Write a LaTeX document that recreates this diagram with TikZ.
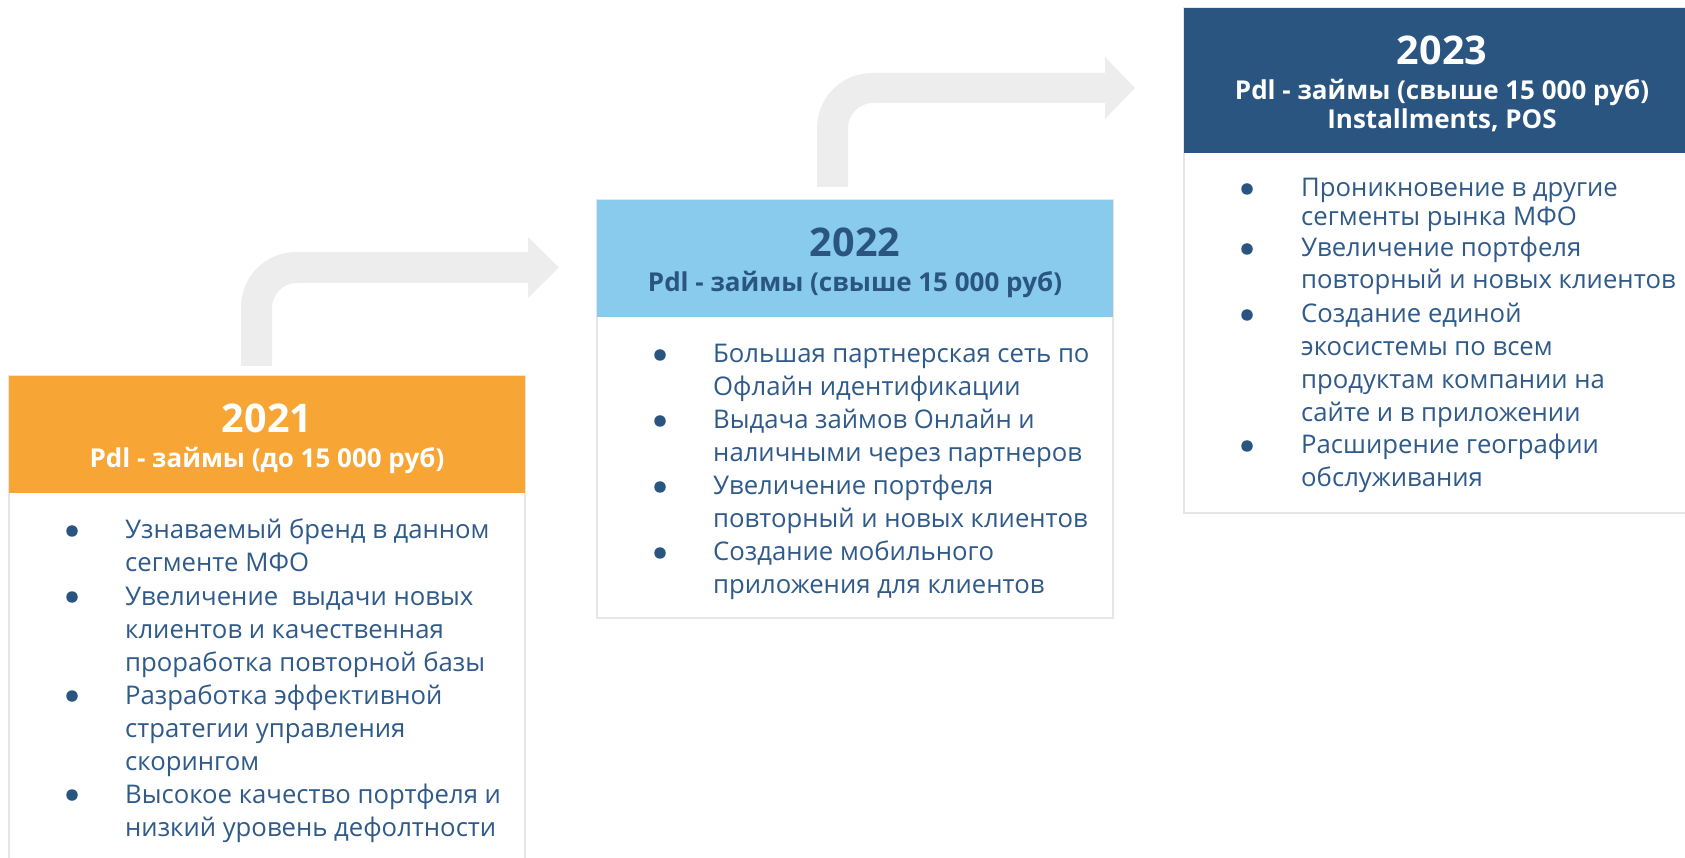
\documentclass[tikz,border=0pt]{standalone}
\usepackage{fontspec}
\setmainfont{Open Sans}
\definecolor{orng}{HTML}{F7A535}
\definecolor{sky}{HTML}{88CBEC}
\definecolor{navy}{HTML}{2A5580}
\definecolor{txtblue}{HTML}{2F5A8A}
\definecolor{edge}{HTML}{E6E6E6}
\definecolor{arr}{HTML}{EDEDED}
\newcommand\itm[1]{\parbox[t]{470pt}{\raggedright #1}}
\begin{document}
\begin{tikzpicture}[x=1pt, y=1pt,
  year/.style={anchor=base, inner sep=0pt, font=\fontsize{39.5}{44}\selectfont\bfseries},
  sub/.style={anchor=base, inner sep=0pt, font=\fontsize{26}{30}\selectfont\bfseries},
  item/.style={anchor=base west, inner sep=0pt, text=txtblue, font=\fontsize{25.7}{33}\selectfont},
  dot/.style={circle, fill=navy, inner sep=0pt, minimum size=11.5pt}]
\useasboundingbox (0,0) rectangle (1685,857);

\fill[arr] (241,491) -- (241,550) arc[start angle=180, end angle=90, radius=55] -- (528,605)
  -- (528,620) -- (559,589.5) -- (528,559) -- (528,574) -- (297,574)
  arc[start angle=90, end angle=180, radius=25] -- (272,491) -- cycle;
\fill[arr] (817,670) -- (817,729) arc[start angle=180, end angle=90, radius=55] -- (1105,784)
  -- (1105,800) -- (1135,769) -- (1105,738) -- (1105,754) -- (873,754)
  arc[start angle=90, end angle=180, radius=25] -- (848,670) -- cycle;

\draw[edge, line width=2pt, fill=white] (9,-20) rectangle (525,481);
\fill[orng] (9,364) rectangle (525,481);
\draw[edge, line width=2pt, fill=white] (597,239) rectangle (1113,657);
\fill[sky] (597,540) rectangle (1113,657);
\draw[edge, line width=2pt, fill=white] (1184,344) rectangle (1700,849);
\fill[navy] (1184,704) rectangle (1700,849);

\node[year, white] (h1) at (267,424) {2021};
\node[sub, white] (p1) at (267,389) {Pdl - займы (до 15 000 руб)};
\node[year, navy] (h2) at (855,600) {2022};
\node[sub, navy] (p2) at (855,565) {Pdl - займы (свыше 15 000 руб)};
\node[year, white] (h3) at (1442,792) {2023};
\node[sub, white] (p3) at (1442,757) {Pdl - займы (свыше 15 000 руб)};
\node[sub, white] (q3) at (1442,728) {Installments, POS};

\node[item] (t11) at (125,318) {\itm{Узнаваемый бренд в данном\\сегменте МФО}};
\node[item] (t12) at (125,252) {\itm{Увеличение \ выдачи новых\\клиентов и качественная\\проработка повторной базы}};
\node[item] (t13) at (125,153) {\itm{Разработка эффективной\\стратегии управления\\скорингом}};
\node[item] (t14) at (125,54) {\itm{Высокое качество портфеля и\\низкий уровень дефолтности}};
\foreach \n/\y in {1/318, 2/252, 3/153, 4/54}
  \node[dot] (d1\n) at (72,\y+8) {};

\node[item] (t21) at (713,494) {\itm{Большая партнерская сеть по\\Офлайн идентификации}};
\node[item] (t22) at (713,428) {\itm{Выдача займов Онлайн и\\наличными через партнеров}};
\node[item] (t23) at (713,362) {\itm{Увеличение портфеля\\повторный и новых клиентов}};
\node[item] (t24) at (713,296) {\itm{Создание мобильного\\приложения для клиентов}};
\foreach \n/\y in {1/494, 2/428, 3/362, 4/296}
  \node[dot] (d2\n) at (660,\y+8) {};

\node[item, font=\fontsize{25.7}{28.5}\selectfont] (t31) at (1301,660) {\itm{Проникновение в другие\\сегменты рынка МФО}};
\node[item, font=\fontsize{25.7}{31.5}\selectfont] (t32) at (1301,600) {\itm{Увеличение портфеля\\повторный и новых клиентов}};
\node[item] (t33) at (1301,534) {\itm{Создание единой\\экосистемы по всем\\продуктам компании на\\сайте и в приложении}};
\node[item] (t34) at (1301,403) {\itm{Расширение географии\\обслуживания}};
\foreach \n/\y in {1/660, 2/600, 3/534, 4/403}
  \node[dot] (d3\n) at (1247,\y+8) {};
\end{tikzpicture}
\end{document}
